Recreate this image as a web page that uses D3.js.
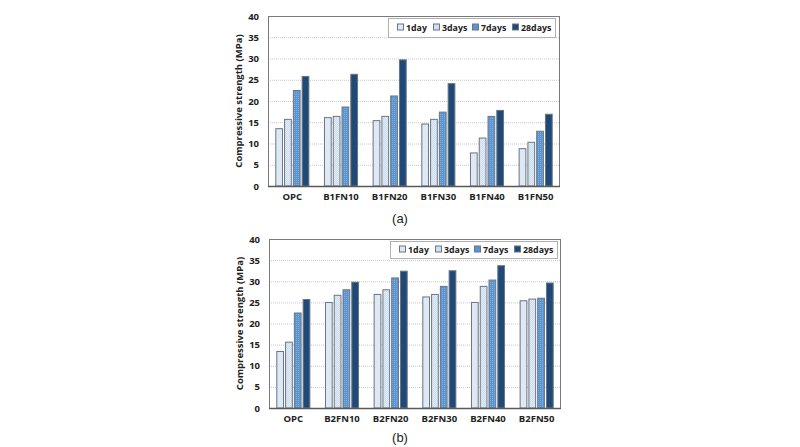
<!DOCTYPE html>
<html><head><meta charset="utf-8">
<script src="https://cdn.jsdelivr.net/npm/d3@7"></script>
<style>body{margin:0;background:#fff}svg{display:block}</style>
</head><body>
<svg id="c" width="800" height="447"></svg>
<script>
const seriesNames = ["1day","3days","7days","28days"];
const catsA = ["OPC","B1FN10","B1FN20","B1FN30","B1FN40","B1FN50"];
const catsB = ["OPC","B2FN10","B2FN20","B2FN30","B2FN40","B2FN50"];
const a1day   = [13.6,16.2,15.5,14.7,7.9,8.9];
const a3days  = [15.8,16.5,16.5,15.8,11.4,10.4];
const a7days  = [22.6,18.7,21.3,17.5,16.5,13.0];
const a28days = [25.9,26.4,29.8,24.2,17.9,17.0];
const b1day   = [13.5,25.1,27.0,26.4,25.1,25.5];
const b3days  = [15.7,26.8,28.1,27.0,28.9,25.9];
const b7days  = [22.6,28.1,30.9,28.9,30.4,26.1];
const b28days = [25.8,29.9,32.5,32.6,33.8,29.7];
const yTicks = [0,5,10,15,20,25,30,35,40];
const labels = ["(a)","(b)"];

const svg = d3.select("#c");
const defs = svg.append("defs");
const p3 = defs.append("pattern").attr("id","p3").attr("width",2).attr("height",2).attr("patternUnits","userSpaceOnUse");
p3.append("rect").attr("width",2).attr("height",2).attr("fill","#c9dcef");
p3.append("rect").attr("width",1).attr("height",1).attr("fill","#e4edf7");
p3.append("rect").attr("x",1).attr("y",1).attr("width",1).attr("height",1).attr("fill","#e4edf7");
const p7 = defs.append("pattern").attr("id","p7").attr("width",2).attr("height",2).attr("patternUnits","userSpaceOnUse");
p7.append("rect").attr("width",2).attr("height",2).attr("fill","#5a95d2");
p7.append("rect").attr("width",1).attr("height",1).attr("fill","#7fb0e0");

const fills = ["#dfe9f5","url(#p3)","url(#p7)","#1f4a78"];
const swatch = ["#dfe9f5","#cfe0f1","#5a95d2","#1f4a78"];
const FONT = "Open Sans, sans-serif";

function chart(cfg){
  const {x0,x1,y0,y1,cats,data,leg,label,labelY} = cfg;
  const g = svg.append("g");
  const x = d3.scaleBand().domain(cats).range([x0,x1]).paddingInner(0.3).paddingOuter(0.15);
  const xs = d3.scaleBand().domain(seriesNames).range([0,x.bandwidth()]).paddingInner(0.12);
  const y = d3.scaleLinear().domain([0,40]).range([y1,y0]);
  g.append("g").selectAll("line").data(yTicks.filter(t=>t>0&&t<40)).join("line")
    .attr("x1",x0).attr("x2",x1).attr("y1",d=>y(d)+0.5).attr("y2",d=>y(d)+0.5)
    .attr("stroke","#c8c8c8").attr("stroke-width",1).attr("stroke-dasharray","1,1");
  cats.forEach((c,i)=>{
    seriesNames.forEach((s,j)=>{
      const v = data[j][i];
      g.append("rect").attr("x",x(c)+xs(s)+0.5).attr("y",y(v)+0.5)
        .attr("width",xs.bandwidth()-1).attr("height",y(0)-y(v)-0.5)
        .attr("fill",fills[j]).attr("stroke","#6b7480").attr("stroke-width",1);
    });
  });
  g.append("rect").attr("x",x0+0.5).attr("y",y0+0.5).attr("width",x1-x0-1).attr("height",y1-y0)
    .attr("fill","none").attr("stroke","#7a7a7a").attr("stroke-width",1);
  g.append("line").attr("x1",x0).attr("x2",x1).attr("y1",y1+0.5).attr("y2",y1+0.5).attr("stroke","#5a5a5a").attr("stroke-width",1.5);
  const ya = d3.axisLeft(y).tickValues(yTicks).tickSize(0).tickPadding(9);
  const yg = g.append("g").attr("transform",`translate(${x0},0)`).call(ya);
  yg.select(".domain").remove();
  yg.selectAll("text").attr("font-family",FONT).attr("font-weight","bold").attr("font-size",9.5).attr("fill","#222");
  const xa = d3.axisBottom(x).tickSize(0).tickPadding(7);
  const xg = g.append("g").attr("transform",`translate(0,${y1})`).call(xa);
  xg.select(".domain").remove();
  xg.selectAll("text").attr("font-family",FONT).attr("font-weight","bold").attr("font-size",9.5).attr("fill","#222");
  g.append("text").attr("transform",`translate(${x0-26},${(y0+y1)/2}) rotate(-90)`)
    .attr("text-anchor","middle").attr("font-family",FONT).attr("font-weight","bold")
    .attr("font-size",9.5).attr("fill","#222").text("Compressive strength (MPa)");
  g.append("rect").attr("x",leg[0]+0.5).attr("y",leg[1]+0.5).attr("width",leg[2]).attr("height",leg[3])
    .attr("fill","#fff").attr("stroke","#b0b0b0");
  const lx = [leg[0]+9, leg[0]+45, leg[0]+84, leg[0]+124];
  seriesNames.forEach((s,j)=>{
    g.append("rect").attr("x",lx[j]+0.5).attr("y",leg[1]+leg[3]/2-3.5).attr("width",6).attr("height",6)
      .attr("fill",swatch[j]).attr("stroke","#6b7480");
    g.append("text").attr("x",lx[j]+9).attr("y",leg[1]+leg[3]/2+3.5)
      .attr("font-family",FONT).attr("font-weight","bold").attr("font-size",8.8).attr("fill","#222").text(s);
  });
  svg.append("text").attr("x",400).attr("y",labelY).attr("text-anchor","middle")
    .attr("font-family","Liberation Sans, Arial, sans-serif").attr("font-size",13).attr("fill","#222").text(label);
}

chart({x0:268,x1:560,y0:16,y1:186,cats:catsA,data:[a1day,a3days,a7days,a28days],leg:[388,18,167,19],label:labels[0],labelY:223});
chart({x0:269,x1:561,y0:239,y1:408,cats:catsB,data:[b1day,b3days,b7days,b28days],leg:[390,241,167,17],label:labels[1],labelY:442});
</script>
</body></html>
